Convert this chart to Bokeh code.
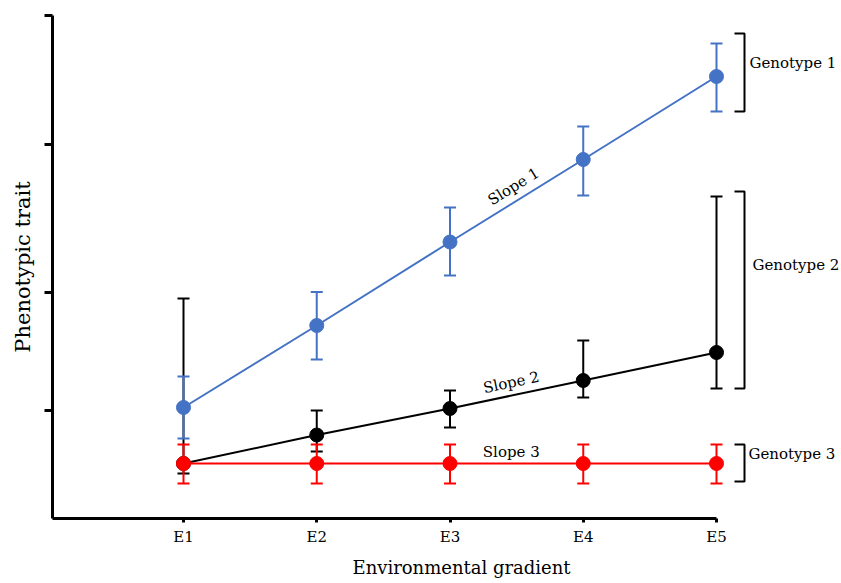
import math
from bokeh.plotting import figure
from bokeh.models import Range1d, FixedTicker, Label, ColumnDataSource, Title
from bokeh.embed import file_html
from bokeh.resources import INLINE

# ---------------- data ----------------
env = [1, 2, 3, 4, 5]
env_labels = ["E1", "E2", "E3", "E4", "E5"]

g1_mean = [112, 194, 277.5, 360, 443]
g1_upper = [143, 227.5, 312, 393, 476]
g1_lower = [81, 160, 244, 324, 408]

g2_mean = [56, 84.5, 111, 139, 167]
g2_upper = [221, 109, 129, 179, 323]
g2_lower = [46, 68, 92, 122, 131]

g3_mean = [56, 56, 56, 56, 56]
g3_upper = [75, 75, 75, 75, 75]
g3_lower = [36, 36, 36, 36, 36]

genotype_names = ["Genotype 1", "Genotype 2", "Genotype 3"]
bracket_lo = [408, 131, 38]
bracket_hi = [486, 328, 75]
genotype_label_y = [457, 255, 66]

slope_names = ["Slope 1", "Slope 2", "Slope 3"]
slope_label_x = [3.477, 3.46, 3.46]
slope_label_y = [333, 137, 68]

y_ticks = [109, 227, 375, 504]

# ---------------- figure ----------------
PX_PER_X = 133.25
x0 = 1 - 131 / PX_PER_X
x1 = 1 + 658 / PX_PER_X
FONT = "DejaVu Serif"

p = figure(width=841, height=583, x_range=Range1d(x0, x1), y_range=Range1d(1, 504),
           output_backend="svg", toolbar_location=None,
           min_border_left=52, min_border_right=0, min_border_top=15, min_border_bottom=65)
p.outline_line_color = None
p.xgrid.visible = False
p.ygrid.visible = False
p.background_fill_color = "white"
p.border_fill_color = "white"

# axes
p.yaxis.ticker = FixedTicker(ticks=y_ticks)
p.yaxis.major_label_overrides = {t: "" for t in y_ticks}
p.yaxis.major_label_standoff = 0
p.yaxis.major_tick_out = 8
p.yaxis.major_tick_in = 0
p.yaxis.minor_tick_line_color = None
p.yaxis.axis_line_width = 3
p.yaxis.major_tick_line_width = 3
p.yaxis.axis_line_color = "black"
p.yaxis.major_tick_line_color = "black"
p.yaxis.axis_label = "Phenotypic trait"
p.yaxis.axis_label_text_font = FONT
p.yaxis.axis_label_text_font_size = "21px"
p.yaxis.axis_label_text_font_style = "normal"
p.yaxis.axis_label_text_color = "black"
p.yaxis.axis_label_standoff = 10

p.xaxis.ticker = FixedTicker(ticks=env)
p.xaxis.major_label_overrides = {e: l for e, l in zip(env, env_labels)}
p.xaxis.major_tick_out = 4
p.xaxis.major_tick_in = 0
p.xaxis.minor_tick_line_color = None
p.xaxis.axis_line_width = 3
p.xaxis.major_tick_line_width = 3
p.xaxis.axis_line_color = "black"
p.xaxis.major_tick_line_color = "black"
p.xaxis.bounds = (x0, 5)
p.xaxis.major_label_text_font = FONT
p.xaxis.major_label_text_font_size = "15px"
p.xaxis.major_label_text_color = "black"
p.xaxis.major_label_standoff = 5

# x-axis title as a below-panel title, shifted to match the original position
p.add_layout(Title(text="Environmental gradient", align="left", offset=300, standoff=12,
                   text_font=FONT, text_font_size="18px", text_font_style="normal",
                   text_color="black"), "below")

# series: black (G2), blue (G1), red (G3) in drawing order
series = [
    (g2_mean, g2_upper, g2_lower, "black"),
    (g1_mean, g1_upper, g1_lower, "#4472C4"),
    (g3_mean, g3_upper, g3_lower, "#FF0000"),
]
for mean, up, lo, col in series:
    src = ColumnDataSource(dict(x=env, m=mean, u=up, l=lo))
    p.segment(x0="x", y0="l", x1="x", y1="u", source=src, line_color=col, line_width=2)
    p.scatter(x="x", y="u", source=src, marker="dash", size=12, line_color=col, line_width=2)
    p.scatter(x="x", y="l", source=src, marker="dash", size=12, line_color=col, line_width=2)
    p.line(x="x", y="m", source=src, line_color=col, line_width=2)
    p.scatter(x="x", y="m", source=src, marker="circle", size=14, fill_color=col, line_color=col)

# brackets
arm_x = 5 + 18 / PX_PER_X
bar_x = 5 + 28 / PX_PER_X
for lo, hi in zip(bracket_lo, bracket_hi):
    p.line(x=[arm_x, bar_x, bar_x, arm_x], y=[hi, hi, lo, lo], line_color="black", line_width=2)

# genotype labels
lab_x = [5 + 33 / PX_PER_X, 5 + 36 / PX_PER_X, 5 + 32 / PX_PER_X]
for name, lx, ly in zip(genotype_names, lab_x, genotype_label_y):
    p.add_layout(Label(x=lx, y=ly, text=name, text_font=FONT, text_font_size="15px",
                       text_color="black", text_align="left", text_baseline="middle"))

# slope labels, rotated along each line
for name, sx, sy, mean in zip(slope_names, slope_label_x, slope_label_y, [g1_mean, g2_mean, g3_mean]):
    ang = math.atan((mean[-1] - mean[0]) / ((env[-1] - env[0]) * PX_PER_X))
    p.add_layout(Label(x=sx, y=sy, text=name, angle=ang, text_font=FONT, text_font_size="15px",
                       text_color="black", text_align="center", text_baseline="middle"))

open("out.html", "w").write(file_html(p, INLINE))
